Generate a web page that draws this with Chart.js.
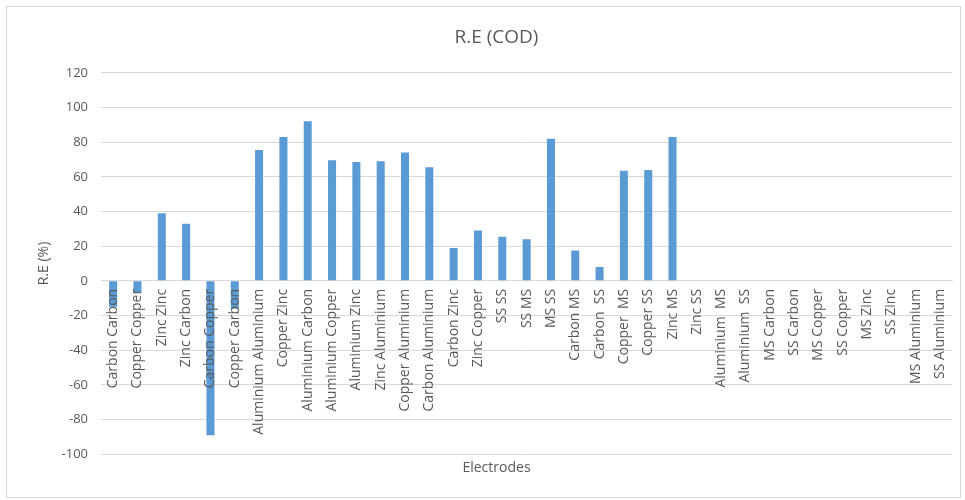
<!DOCTYPE html>
<html>
<head>
<meta charset="utf-8">
<script src="https://cdn.jsdelivr.net/npm/chart.js@4/dist/chart.umd.min.js"></script>
<style>
  html, body { margin: 0; padding: 0; background: #ffffff; }
  #wrap { position: relative; width: 965px; height: 500px; }
  #frame { position: absolute; left: 6px; top: 6px; width: 953px; height: 490px; border: 1px solid #d9d9d9; pointer-events: none; }
  canvas { position: absolute; left: 0; top: 0; }
</style>
</head>
<body>
<div id="wrap">
  <canvas id="c" width="965" height="500"></canvas>
  <div id="frame"></div>
</div>
<script>
const chartTitle = "R.E (COD)";
const xAxisTitle = "Electrodes";
const yAxisTitle = "R.E (%)";

const electrodes = [
  "Carbon Carbon", "Copper Copper", "Zinc Zinc", "Zinc Carbon", "Carbon Copper",
  "Copper Carbon", "Aluminium Aluminium", "Copper Zinc", "Aluminium Carbon",
  "Aluminium Copper", "Aluminium Zinc", "Zinc Aluminium", "Copper Aluminium",
  "Carbon Aluminium", "Carbon Zinc", "Zinc Copper", "SS SS", "SS MS", "MS SS",
  "Carbon MS", "Carbon  SS", "Copper  MS", "Copper SS", "Zinc MS", "Zinc SS",
  "Aluminium  MS", "Aluminium  SS", "MS Carbon", "SS Carbon", "MS Copper",
  "SS Copper", "MS Zinc", "SS Zinc", "MS Aluminium", "SS Aluminium"
];

const reCOD = [
  -15, -7, 39, 33, -89,
  -16, 75.5, 83, 92,
  69.5, 68.5, 69, 74,
  65.5, 19, 29, 25.5, 24, 82,
  17.5, 8, 63.5, 64, 83, null,
  null, null, null, null, null,
  null, null, null, null, null
];

const yMin = -100, yMax = 120, yStep = 20;

const grey = "#595959";
const gridGrey = "#d9d9d9";
const fontFam = "'Open Sans', 'Liberation Sans', sans-serif";

new Chart(document.getElementById("c"), {
  type: "bar",
  data: {
    labels: electrodes,
    datasets: [{
      label: chartTitle,
      data: reCOD,
      backgroundColor: "#5B9BD5",
      borderWidth: 0,
      barPercentage: 0.33,
      categoryPercentage: 1.0
    }]
  },
  options: {
    responsive: false,
    animation: false,
    devicePixelRatio: 1,
    layout: { padding: { left: 36, right: 8, top: 0, bottom: 19 } },
    plugins: {
      legend: { display: false },
      tooltip: { enabled: false },
      title: {
        display: true,
        text: chartTitle,
        color: grey,
        font: { family: fontFam, size: 19, weight: "normal" },
        padding: { top: 26, bottom: 24 }
      },
      subtitle: {
        display: true,
        position: "bottom",
        text: xAxisTitle,
        color: grey,
        font: { family: fontFam, size: 14, weight: "normal" },
        padding: { top: 5, bottom: 5 }
      }
    },
    scales: {
      x: {
        position: { y: 0 },
        grid: { display: false, drawTicks: false },
        border: { display: true, color: gridGrey, width: 1, z: -1 },
        ticks: {
          z: 1,
          autoSkip: false,
          maxRotation: 90,
          minRotation: 90,
          padding: 8,
          color: grey,
          font: { family: fontFam, size: 14 }
        }
      },
      y: {
        min: yMin,
        max: yMax,
        afterFit: (scale) => { scale.width = 65; },
        grid: { color: gridGrey, drawTicks: false, lineWidth: 1 },
        border: { display: false },
        ticks: {
          stepSize: yStep,
          padding: 13,
          color: grey,
          font: { family: fontFam, size: 13 }
        },
        title: {
          display: true,
          text: yAxisTitle,
          color: grey,
          font: { family: fontFam, size: 14, weight: "normal" },
          padding: { top: 0, bottom: 0 }
        }
      }
    }
  }
});
</script>
</body>
</html>
